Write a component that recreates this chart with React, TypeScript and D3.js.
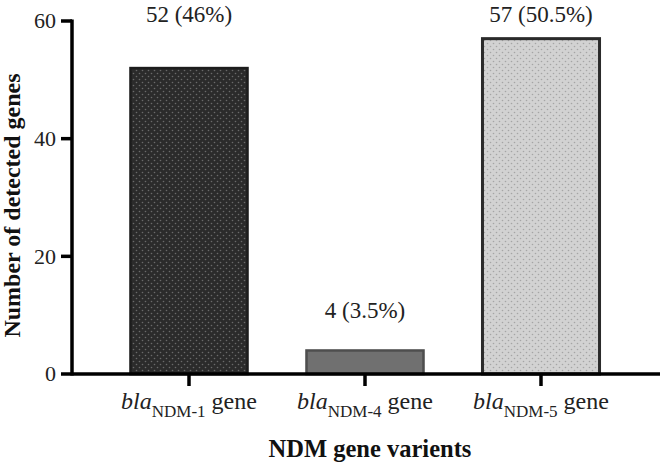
import React from "react";
import * as d3 from "d3";

const categories = ["NDM-1", "NDM-4", "NDM-5"];
const values = [52, 4, 57];
const valueLabels = ["52 (46%)", "4 (3.5%)", "57 (50.5%)"];
const labelYValues = [59.8, 9.5, 59.8];
const yTicks = [0, 20, 40, 60];

const W = 661;
const H = 464;
const FONT = "Liberation Serif, Times New Roman, Times, DejaVu Serif, serif";

const barStyles = [
  { fill: "url(#dotsDark)", stroke: "#1c1c1c", sw: 2.5 },
  { fill: "#707070", stroke: "#4e4e4e", sw: 2.5 },
  { fill: "url(#dotsLight)", stroke: "#2a2a2a", sw: 3 },
];

export default function App() {
  const y = d3.scaleLinear().domain([0, 60]).range([374, 21]);
  const x = d3
    .scaleBand<string>()
    .domain(categories)
    .range([101, 629])
    .paddingInner(0.335)
    .paddingOuter(0.1675);
  const axisX = 72;
  const axisY = y(0);
  const ts = { fontFamily: FONT };

  return (
    <svg width={W} height={H} style={{ position: "absolute", left: 0, top: 0, background: "#fff" }}>
      <defs>
        <pattern id="dotsDark" width="6" height="6" patternUnits="userSpaceOnUse">
          <rect width="6" height="6" fill="#2b2b2b" />
          <circle cx="1.5" cy="1.5" r="0.8" fill="#6a6a6a" />
          <circle cx="4.5" cy="4.5" r="0.8" fill="#6a6a6a" />
        </pattern>
        <pattern id="dotsLight" width="6" height="6" patternUnits="userSpaceOnUse">
          <rect width="6" height="6" fill="#d2d2d2" />
          <circle cx="1.5" cy="1.5" r="0.8" fill="#a5a5a5" />
          <circle cx="4.5" cy="4.5" r="0.8" fill="#a5a5a5" />
        </pattern>
      </defs>

      {categories.map((c, i) => {
        const bx = x(c)!;
        const bw = x.bandwidth();
        const st = barStyles[i];
        return (
          <rect
            key={c}
            x={bx}
            y={y(values[i])}
            width={bw}
            height={axisY - y(values[i])}
            fill={st.fill}
            stroke={st.stroke}
            strokeWidth={st.sw}
          />
        );
      })}

      {categories.map((c, i) => (
        <text
          key={"v" + c}
          x={x(c)! + x.bandwidth() / 2}
          y={y(labelYValues[i])}
          textAnchor="middle"
          style={ts}
          fontSize={23}
          fill="#222"
        >
          {valueLabels[i]}
        </text>
      ))}

      {/* y axis */}
      <line x1={axisX} x2={axisX} y1={y(60) - 1.5} y2={axisY + 1.5} stroke="#000" strokeWidth={3.5} />
      {yTicks.map((t) => (
        <g key={t}>
          <line x1={axisX - 11} x2={axisX} y1={y(t)} y2={y(t)} stroke="#000" strokeWidth={3.5} />
          <text
            x={axisX - 16}
            y={y(t)}
            dy="0.34em"
            textAnchor="end"
            style={ts}
            fontSize={22}
            fill="#222"
          >
            {t}
          </text>
        </g>
      ))}

      {/* x axis */}
      <line x1={axisX} x2={660} y1={axisY} y2={axisY} stroke="#000" strokeWidth={3.5} />
      {categories.map((c) => {
        const cx = x(c)! + x.bandwidth() / 2;
        return (
          <g key={"t" + c}>
            <line x1={cx} x2={cx} y1={axisY} y2={axisY + 12} stroke="#000" strokeWidth={3.5} />
            <text x={cx} y={409} textAnchor="middle" style={ts} fontSize={24} fill="#222">
              <tspan fontStyle="italic">bla</tspan>
              <tspan fontSize={17} dy={8}>{c}</tspan>
              <tspan dy={-8}>{" gene"}</tspan>
            </text>
          </g>
        );
      })}

      <text
        x={(axisX + 660) / 2 + 4}
        y={457}
        textAnchor="middle"
        style={ts}
        fontSize={24.5}
        fontWeight="bold"
        fill="#111"
      >
        NDM gene varients
      </text>

      <text
        transform={`translate(20, ${(y(0) + y(60)) / 2 + 8}) rotate(-90)`}
        textAnchor="middle"
        style={ts}
        fontSize={24}
        fontWeight="bold"
        fill="#111"
      >
        Number of detected genes
      </text>
    </svg>
  );
}
